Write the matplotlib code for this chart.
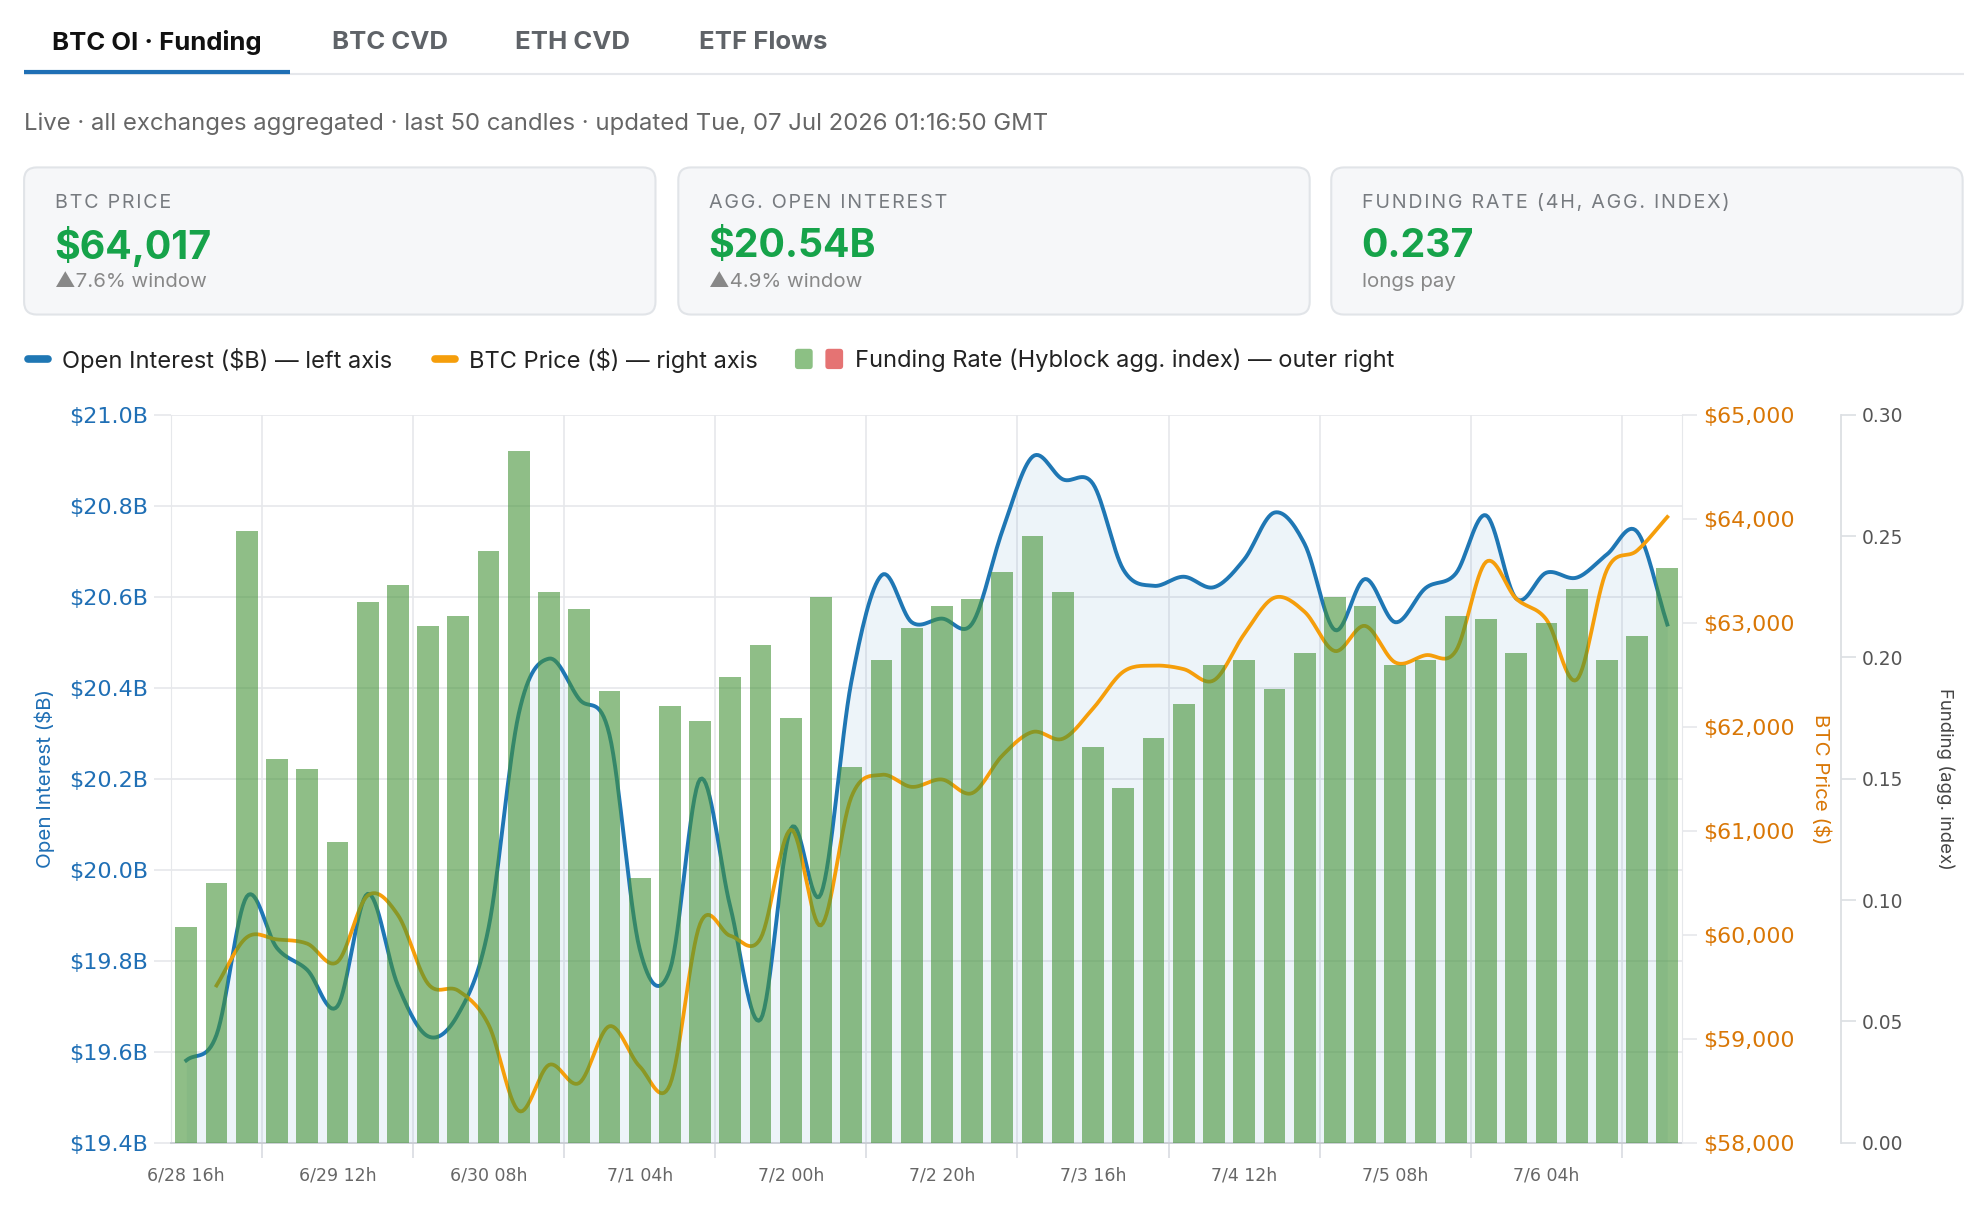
import numpy as np
import matplotlib.pyplot as plt
from matplotlib.patches import FancyBboxPatch

plt.rcParams['font.family'] = ['Inter', 'DejaVu Sans']

tabs = ['BTC OI · Funding', 'BTC CVD', 'ETH CVD', 'ETF Flows']
subtitle = 'Live · all exchanges aggregated · last 50 candles · updated Tue, 07 Jul 2026 01:16:50 GMT'
card_titles = ['BTC PRICE', 'AGG. OPEN INTEREST', 'FUNDING RATE (4H, AGG. INDEX)']
card_values = ['$64,017', '$20.54B', '0.237']
card_notes = ['▲7.6% window', '▲4.9% window', 'longs pay']
legend_labels = ['Open Interest ($B) — left axis', 'BTC Price ($) — right axis',
                 'Funding Rate (Hyblock agg. index) — outer right']

# one label every 5 candles (4h candles)
tick_labels = ['6/28 16h', '6/29 12h', '6/30 08h', '7/1 04h', '7/2 00h',
               '7/2 20h', '7/3 16h', '7/4 12h', '7/5 08h', '7/6 04h']

open_interest = [19.581, 19.637, 19.941, 19.828, 19.780, 19.700, 19.947, 19.746, 19.634, 19.683,
                 19.872, 20.343, 20.464, 20.375, 20.297, 19.826, 19.780, 20.199, 19.918, 19.671,
                 20.090, 19.947, 20.412, 20.647, 20.544, 20.552, 20.541, 20.745, 20.908, 20.858,
                 20.848, 20.660, 20.624, 20.644, 20.621, 20.682, 20.785, 20.716, 20.527, 20.639,
                 20.544, 20.619, 20.651, 20.779, 20.596, 20.653, 20.642, 20.693, 20.743, 20.539]

btc_price = [np.nan, 59512, 59975, 59955, 59915, 59739, 60377, 60191, 59528, 59462,
             59136, 58307, 58749, 58575, 59121, 58734, 58558, 60106, 59990, 59965,
             61010, 60090, 61322, 61538, 61422, 61493, 61362, 61724, 61950, 61885,
             62176, 62529, 62588, 62554, 62447, 62890, 63241, 63105, 62728, 62970,
             62618, 62688, 62728, 63584, 63232, 63030, 62452, 63508, 63694, 64017]

funding = [0.089, 0.107, 0.252, 0.158, 0.154, 0.124, 0.223, 0.230, 0.213, 0.217,
           0.244, 0.285, 0.227, 0.220, 0.186, 0.109, 0.180, 0.174, 0.192, 0.205,
           0.175, 0.225, 0.155, 0.199, 0.212, 0.221, 0.224, 0.235, 0.250, 0.227,
           0.163, 0.146, 0.167, 0.181, 0.197, 0.199, 0.187, 0.202, 0.225, 0.221,
           0.197, 0.199, 0.217, 0.216, 0.202, 0.214, 0.228, 0.199, 0.209, 0.237]

BLUE = '#1f77b4'
ORANGE = '#f59e0b'
GRID = '#e6e8eb'


def smooth(xv, yv, steps=16):
    # cubic hermite through the points (catmull-rom tangents)
    xv = np.asarray(xv, float)
    yv = np.asarray(yv, float)
    m = np.gradient(yv, xv)
    t = np.linspace(0, 1, steps, endpoint=False)
    h00 = 2 * t**3 - 3 * t**2 + 1
    h10 = t**3 - 2 * t**2 + t
    h01 = -2 * t**3 + 3 * t**2
    h11 = t**3 - t**2
    xs, ys = [], []
    for i in range(len(xv) - 1):
        h = xv[i + 1] - xv[i]
        xs.append(xv[i] + t * h)
        ys.append(h00 * yv[i] + h10 * h * m[i] + h01 * yv[i + 1] + h11 * h * m[i + 1])
    xs.append([xv[-1]])
    ys.append([yv[-1]])
    return np.concatenate(xs), np.concatenate(ys)


n = len(funding)
x = np.arange(n)
price = np.array(btc_price, float)

fig = plt.figure(figsize=(19.88, 12.10), dpi=100)

# header drawn in a pixel-like coordinate system
bg = fig.add_axes([0, 0, 1, 1])
bg.set_xlim(0, 1568)
bg.set_ylim(954, 0)
bg.axis('off')

for i, (label, tx) in enumerate(zip(tabs, [41, 262, 406, 551])):
    bg.text(tx, 33.5, label, fontsize=18.5, fontweight='bold',
            color='#111111' if i == 0 else '#5f6368', va='center')
bg.plot([19, 1549], [58, 58], color='#e5e7eb', lw=1.5, solid_capstyle='butt')
bg.plot([19, 229], [57, 57], color='#1f6fb5', lw=3, solid_capstyle='butt')

bg.text(19, 97.5, subtitle, fontsize=17.2, color='#666666', va='center')

for cx, title, value, note in zip([19, 535, 1050], card_titles, card_values, card_notes):
    bg.add_patch(FancyBboxPatch((cx, 132), 498, 116, boxstyle='round,pad=0,rounding_size=10',
                                fc='#f6f7f9', ec='#e1e4e8', lw=1.5))
    spaced = '\u200a'.join(title)
    bg.text(cx + 24, 160, spaced, fontsize=14.2, color='#777b80', va='center')
    bg.text(cx + 24, 194, value, fontsize=28.3, fontweight='bold', color='#16a34a', va='center')
    bg.text(cx + 24, 222.5, note, fontsize=14.7, color='#888888', va='center')

bg.plot([22, 38], [283, 283], color=BLUE, lw=5.5, solid_capstyle='round')
bg.text(49, 284, legend_labels[0], fontsize=17, color='#222222', va='center')
bg.plot([343, 359], [283, 283], color=ORANGE, lw=5.5, solid_capstyle='round')
bg.text(370, 284, legend_labels[1], fontsize=17, color='#222222', va='center')
bg.add_patch(FancyBboxPatch((627, 275), 14, 16, boxstyle='round,pad=0,rounding_size=2.5',
                            fc='#8cc084', ec='none'))
bg.add_patch(FancyBboxPatch((651, 275), 14, 16, boxstyle='round,pad=0,rounding_size=2.5',
                            fc='#e57373', ec='none'))
bg.text(674, 284, legend_labels[2], fontsize=17, color='#222222', va='center')

# chart
ax = fig.add_axes([135 / 1568, 1 - 901 / 954, 1192 / 1568, 574 / 954])
ax2 = ax.twinx()
ax3 = ax.twinx()

ax.set_xlim(-0.5, n - 0.5)
ax.set_ylim(19.4, 21.0)
oi_ticks = np.round(np.arange(19.4, 21.01, 0.2), 1)
ax.set_yticks(oi_ticks, labels=[f'${v:.1f}B' for v in oi_ticks])
ax.set_xticks(np.arange(2.5, n, 5), labels=[''] * len(tick_labels))
ax.set_xticks(np.arange(0, n, 5), labels=tick_labels, minor=True)
ax.grid(True, which='major', color=GRID, lw=1.2)
ax.set_axisbelow(True)

xs, ys = smooth(x, open_interest)
ax.fill_between(xs, ys, 19.4, color=BLUE, alpha=0.08, lw=0)
ax.plot(xs, ys, color=BLUE, lw=2.8)

ok = ~np.isnan(price)
xs2, ys2 = smooth(x[ok], price[ok])
ax2.plot(xs2, ys2, color=ORANGE, lw=2.7)
ax2.set_ylim(58000, 65000)
p_ticks = np.arange(58000, 65001, 1000)
ax2.set_yticks(p_ticks, labels=[f'${v:,.0f}' for v in p_ticks])

bar_colors = ['#449337' if f >= 0 else '#d9534f' for f in funding]
ax3.bar(x, funding, width=0.72, color=bar_colors, alpha=0.6, lw=0)
ax3.set_ylim(0, 0.30)
f_ticks = np.round(np.arange(0, 0.301, 0.05), 2)
ax3.set_yticks(f_ticks, labels=[f'{v:.2f}' for v in f_ticks])
ax3.spines['right'].set_position(('axes', 1317 / 1192))

for a in (ax, ax2, ax3):
    for s in a.spines.values():
        s.set_visible(False)
ax.spines['left'].set_visible(True)
ax.spines['left'].set_color(GRID)
ax.spines['bottom'].set_visible(True)
ax.spines['bottom'].set_color('#c9cdd3')
ax.spines['bottom'].set_linewidth(1.3)
ax2.spines['right'].set_visible(True)
ax2.spines['right'].set_color(GRID)
ax3.spines['right'].set_visible(True)
ax3.spines['right'].set_color('#dcdfe3')
ax3.spines['right'].set_linewidth(1.3)

ax.tick_params(axis='x', which='major', length=11, width=1.2, color='#d9dce1')
ax.tick_params(axis='x', which='minor', length=0, pad=17, labelsize=12.5,
               labelcolor='#666666', labelfontfamily='DejaVu Sans')
ax.tick_params(axis='y', length=12.5, width=1.2, color=GRID, pad=4.2, labelsize=16,
               labelcolor='#1f6fb5', labelfontfamily='DejaVu Sans')
ax2.tick_params(axis='y', length=11, width=1.2, color=GRID, pad=4.2, labelsize=15.9,
                labelcolor='#d97706', labelfontfamily='DejaVu Sans')
ax3.tick_params(axis='y', length=11, width=1.2, color='#dcdfe3', pad=4, labelsize=13.4,
                labelcolor='#555555', labelfontfamily='DejaVu Sans')

ax.text(-100 / 1192, 0.5, 'Open Interest ($B)', transform=ax.transAxes, rotation=90,
        ha='center', va='center', color='#1f6fb5', fontsize=14.8)
ax.text(1301 / 1192, 0.5, 'BTC Price ($)', transform=ax.transAxes, rotation=270,
        ha='center', va='center', color='#d97706', fontsize=14.8)
ax.text(1399 / 1192, 0.5, 'Funding (agg. index)', transform=ax.transAxes, rotation=270,
        ha='center', va='center', color='#444444', fontsize=13.4)

fig.savefig('out.png', dpi=100)
